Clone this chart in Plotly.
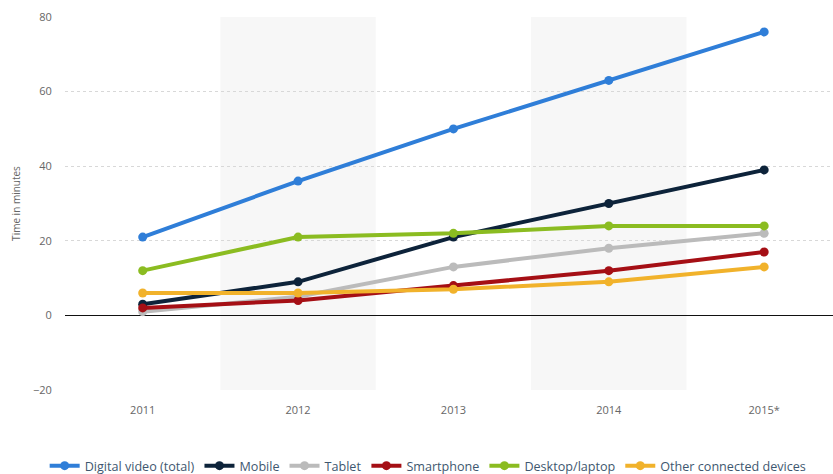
import plotly.graph_objects as go

years = ["2011", "2012", "2013", "2014", "2015*"]
series_names = ["Digital video (total)", "Mobile", "Tablet", "Smartphone", "Desktop/laptop", "Other connected devices"]
digital_video = [21, 36, 50, 63, 76]
mobile = [3, 9, 21, 30, 39]
tablet = [1, 5, 13, 18, 22]
smartphone = [2, 4, 8, 12, 17]
desktop = [12, 21, 22, 24, 24]
other = [6, 6, 7, 9, 13]
colors = ["#2f7ed8", "#0d233a", "#bbbbbb", "#a50f15", "#8bbc21", "#f1b22b"]
values = [digital_video, mobile, tablet, smartphone, desktop, other]

fig = go.Figure()
for i in range(len(series_names)):
    fig.add_trace(go.Scatter(
        x=list(range(len(years))), y=values[i], name=series_names[i],
        mode="lines+markers",
        line=dict(color=colors[i], width=4),
        marker=dict(color=colors[i], size=9),
    ))

for k in (1, 3):
    fig.add_shape(type="rect", xref="x", yref="paper", x0=k - 0.5, x1=k + 0.5, y0=0, y1=1,
                  fillcolor="#f7f7f7", line=dict(width=0), layer="below")

fig.update_layout(
    width=833, height=474,
    margin=dict(l=65, r=0, t=17, b=84, autoexpand=False),
    plot_bgcolor="white", paper_bgcolor="white",
    showlegend=True,
    hovermode=False,
    legend=dict(orientation="h", xref="container", x=0.514, xanchor="center",
                yref="container", y=0.017, yanchor="middle",
                font=dict(family="Open Sans, Arial, sans-serif", size=12.6, color="#3e576f"),
                itemwidth=30, traceorder="normal", tracegroupgap=0),
    font=dict(family="Open Sans, Arial, sans-serif"),
)
fig.update_xaxes(
    range=[-0.5, 4.443], tickmode="array", tickvals=list(range(len(years))), ticktext=years,
    showgrid=False, zeroline=False, showline=False,
    ticks="outside", ticklen=10, tickcolor="rgba(0,0,0,0)",
    tickfont=dict(size=11, color="#666666"),
)
fig.update_yaxes(
    range=[-20, 80], tickvals=[-20, 0, 20, 40, 60, 80],
    showgrid=True, gridcolor="#d8d8d8", griddash="dot", gridwidth=1,
    zeroline=True, zerolinecolor="#111111", zerolinewidth=1.2,
    ticks="outside", ticklen=10, tickcolor="rgba(0,0,0,0)",
    tickfont=dict(size=11, color="#666666"),
    title=dict(text="Time in minutes", font=dict(size=10, color="#666666"), standoff=10),
)
fig.write_html("out.html")
